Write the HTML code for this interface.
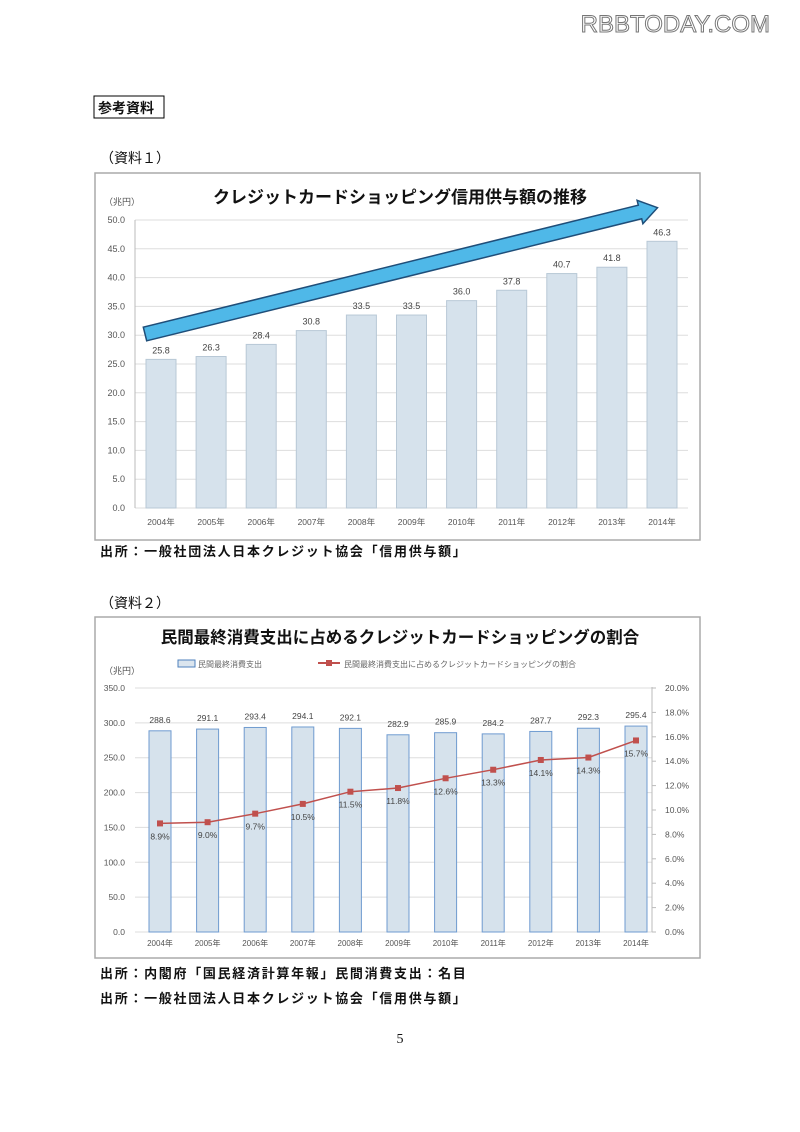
<!DOCTYPE html>
<html><head><meta charset="utf-8"><style>
html,body{margin:0;padding:0;background:#fff;}
svg{display:block;font-family:"Liberation Sans","Noto Sans CJK JP",sans-serif;}
</style></head><body>
<svg id="s" width="800" height="1132" viewBox="0 0 800 1132" xmlns="http://www.w3.org/2000/svg">
<text x="770" y="32" text-anchor="end" font-size="24" fill="#fff" stroke="#777" stroke-width="1" font-family="Liberation Sans, sans-serif">RBBTODAY.COM</text>
<rect x="94" y="96" width="70" height="22" fill="none" stroke="#000" stroke-width="1"/>
<text x="98" y="113" font-size="14" font-weight="bold" fill="#111">参考資料</text>
<text x="100" y="163" font-size="14" fill="#111">（資料１）</text>
<rect x="95" y="173" width="605" height="367" fill="#fff" stroke="#aaa" stroke-width="1.5"/>
<text x="400" y="203" text-anchor="middle" font-size="17" font-weight="bold" fill="#111">クレジットカードショッピング信用供与額の推移</text>
<text x="104" y="205" font-size="9" fill="#555">（兆円）</text>
<text x="100" y="556" font-size="13" font-weight="bold" fill="#111" letter-spacing="1.7">出所：一般社団法人日本クレジット協会「信用供与額」</text>
<text x="100" y="608" font-size="14" fill="#111">（資料２）</text>
<rect x="95" y="617" width="605" height="341" fill="#fff" stroke="#aaa" stroke-width="1.5"/>
<text x="400" y="643" text-anchor="middle" font-size="16.5" font-weight="bold" fill="#111">民間最終消費支出に占めるクレジットカードショッピングの割合</text>
<text x="104" y="674" font-size="9" fill="#555">（兆円）</text>
<rect x="178" y="660" width="17" height="7" fill="#dbe5ee" stroke="#4f81bd" stroke-width="1"/>
<text x="198" y="667" font-size="8" fill="#666">民間最終消費支出</text>
<line x1="318" y1="663" x2="340" y2="663" stroke="#c0504d" stroke-width="2"/>
<rect x="326" y="660" width="6" height="6" fill="#c0504d"/>
<text x="344" y="667" font-size="8" fill="#666">民間最終消費支出に占めるクレジットカードショッピングの割合</text>
<text x="100" y="978" font-size="13" font-weight="bold" fill="#111" letter-spacing="1.7">出所：内閣府「国民経済計算年報」民間消費支出：名目</text>
<text x="100" y="1003" font-size="13" font-weight="bold" fill="#111" letter-spacing="1.7">出所：一般社団法人日本クレジット協会「信用供与額」</text>
<text x="400" y="1043" text-anchor="middle" font-size="14" fill="#111" font-family="Liberation Serif, serif">5</text>
<g id="g"></g>
</svg>
<script>
var g=document.getElementById('g'),h='';
var years=['2004年','2005年','2006年','2007年','2008年','2009年','2010年','2011年','2012年','2013年','2014年'];
var v1=[25.8,26.3,28.4,30.8,33.5,33.5,36.0,37.8,40.7,41.8,46.3];
function y1(v){return 508-v*5.76;}
for(var t=0;t<=50;t+=5){var y=y1(t);
 h+='<line x1="135" x2="688" y1="'+y+'" y2="'+y+'" stroke="#ddd"/>';
 h+='<text x="125" y="'+(y+3)+'" text-anchor="end" font-size="9" fill="#555">'+t.toFixed(1)+'</text>';}
h+='<line x1="135" x2="135" y1="220" y2="508" stroke="#bbb"/>';
for(var i=0;i<11;i++){var c=161+i*50.1,y=y1(v1[i]);
 h+='<rect x="'+(c-15)+'" y="'+y+'" width="30" height="'+(508-y)+'" fill="#d6e2ec" stroke="#b8c8d6"/>';
 h+='<text x="'+c+'" y="'+(y-6)+'" text-anchor="middle" font-size="9" fill="#444">'+v1[i].toFixed(1)+'</text>';
 h+='<text x="'+c+'" y="525" text-anchor="middle" font-size="8.5" fill="#555">'+years[i]+'</text>';}
var x0=145,yA=334,x1=640,yB=212,dx=x1-x0,dy=yB-yA,L=Math.hypot(dx,dy),ux=dx/L,uy=dy/L,nx=-uy,ny=ux,w=7,hw=12;
function p(x,y){return x.toFixed(1)+','+y.toFixed(1);}
var tip=[x1+ux*18,yB+uy*18];
h+='<polygon points="'+[p(x0+nx*w,yA+ny*w),p(x1+nx*w,yB+ny*w),p(x1+nx*hw,yB+ny*hw),p(tip[0],tip[1]),p(x1-nx*hw,yB-ny*hw),p(x1-nx*w,yB-ny*w),p(x0-nx*w,yA-ny*w)].join(' ')+'" fill="#4fb8e8" stroke="#1f4e79" stroke-width="1.5"/>';
var v2=[288.6,291.1,293.4,294.1,292.1,282.9,285.9,284.2,287.7,292.3,295.4];
var p2=[8.9,9.0,9.7,10.5,11.5,11.8,12.6,13.3,14.1,14.3,15.7];
function y2(v){return 932-v*0.6971;}
function yp(v){return 932-v*12.2;}
for(var t=0;t<=350;t+=50){var y=y2(t);
 h+='<line x1="135" x2="652" y1="'+y+'" y2="'+y+'" stroke="#ddd"/>';
 h+='<text x="125" y="'+(y+3)+'" text-anchor="end" font-size="8.5" fill="#555">'+t.toFixed(1)+'</text>';}
for(var t=0;t<=20;t+=2){var y=yp(t);
 h+='<line x1="652" x2="656" y1="'+y+'" y2="'+y+'" stroke="#bbb"/>';
 h+='<text x="665" y="'+(y+3)+'" font-size="8.5" fill="#555">'+t.toFixed(1)+'%</text>';}
h+='<line x1="652" x2="652" y1="687" y2="932" stroke="#bbb"/>';
var pts=[];
for(var i=0;i<11;i++){var c=160+i*47.6,y=y2(v2[i]);
 h+='<rect x="'+(c-11)+'" y="'+y+'" width="22" height="'+(932-y)+'" fill="#d6e2ec" stroke="#6f9bd0" stroke-width="1"/>';
 h+='<text x="'+c+'" y="'+(y-8)+'" text-anchor="middle" font-size="8.5" fill="#444">'+v2[i].toFixed(1)+'</text>';
 h+='<text x="'+c+'" y="946" text-anchor="middle" font-size="8" fill="#555">'+years[i]+'</text>';
 pts.push(p(c,yp(p2[i])));}
h+='<polyline points="'+pts.join(' ')+'" fill="none" stroke="#c0504d" stroke-width="1.5"/>';
for(var i=0;i<11;i++){var c=160+i*47.6,y=yp(p2[i]);
 h+='<rect x="'+(c-3)+'" y="'+(y-3)+'" width="6" height="6" fill="#c0504d"/>';
 h+='<text x="'+c+'" y="'+(y+16)+'" text-anchor="middle" font-size="8.5" fill="#444">'+p2[i].toFixed(1)+'%</text>';}
g.innerHTML=h;
</script>
</body></html>
